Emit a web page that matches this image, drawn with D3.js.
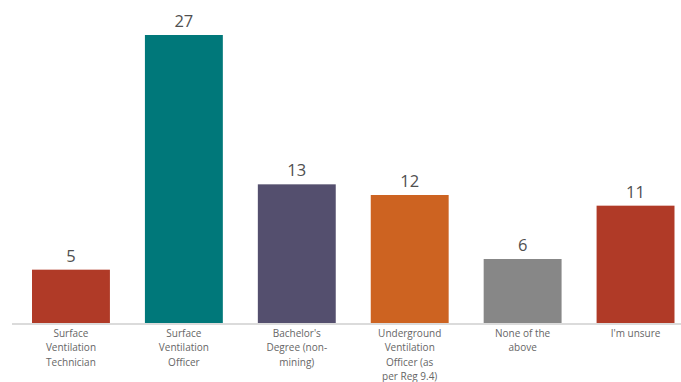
<!DOCTYPE html>
<html>
<head>
<meta charset="utf-8">
<script src="https://cdn.jsdelivr.net/npm/d3@7"></script>
<style>
  html, body { margin: 0; padding: 0; background: #fff; }
  svg { display: block; }
</style>
</head>
<body>
<svg id="chart" width="681" height="382"></svg>
<script>
// Qualification responses
const categories = [
  ["Surface", "Ventilation", "Technician"],
  ["Surface", "Ventilation", "Officer"],
  ["Bachelor's", "Degree (non-", "mining)"],
  ["Underground", "Ventilation", "Officer (as", "per Reg 9.4)"],
  ["None of the", "above"],
  ["I'm unsure"]
];
const values = [5, 27, 13, 12, 6, 11];
const colors = ["#b03a27", "#00787a", "#544f6e", "#cd6321", "#878787", "#b03a27"];

const svg = d3.select("#chart");
const baseline = 323;

const x = d3.scaleBand()
  .domain(d3.range(values.length))
  .range([14.5, 692])
  .paddingInner(0.31)
  .paddingOuter(0.155);

const y = d3.scaleLinear()
  .domain([0, 27])
  .range([baseline, 35]);

// bars
svg.selectAll("rect.bar")
  .data(values)
  .join("rect")
  .attr("class", "bar")
  .attr("x", (d, i) => x(i))
  .attr("y", d => y(d))
  .attr("width", x.bandwidth())
  .attr("height", d => baseline - y(d))
  .attr("fill", (d, i) => colors[i]);

// baseline
svg.append("line")
  .attr("x1", 12).attr("x2", 681)
  .attr("y1", baseline + 1).attr("y2", baseline + 1)
  .attr("stroke", "#cfcfcf")
  .attr("stroke-width", 1.5);

// value labels
svg.selectAll("text.value")
  .data(values)
  .join("text")
  .attr("class", "value")
  .attr("x", (d, i) => x(i) + x.bandwidth() / 2)
  .attr("y", d => y(d) - 8)
  .attr("text-anchor", "middle")
  .attr("font-family", "'Open Sans', 'Noto Sans', sans-serif")
  .attr("font-size", 16.5)
  .attr("fill", "#505050")
  .text(d => d);

// category labels
const cat = svg.selectAll("text.cat")
  .data(categories)
  .join("text")
  .attr("class", "cat")
  .attr("text-anchor", "middle")
  .attr("font-family", "'Open Sans', 'Noto Sans', sans-serif")
  .attr("font-size", 10)
  .attr("fill", "#666");

cat.each(function (lines, i) {
  d3.select(this).selectAll("tspan")
    .data(lines)
    .join("tspan")
    .attr("x", x(i) + x.bandwidth() / 2)
    .attr("y", (l, j) => 337 + j * 14.3)
    .text(l => l);
});
</script>
</body>
</html>
